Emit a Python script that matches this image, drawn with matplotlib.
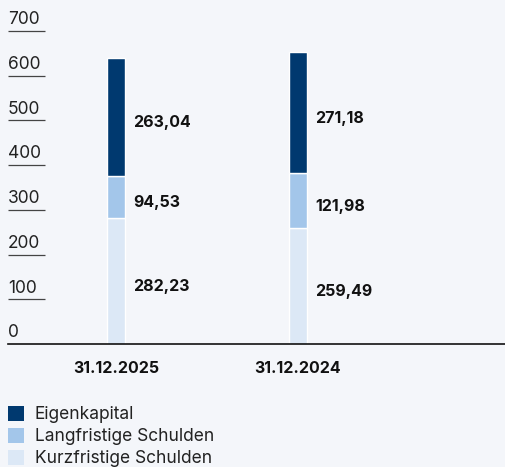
import matplotlib
matplotlib.use("Agg")
import matplotlib.pyplot as plt
from matplotlib.patches import Patch

categories = ["31.12.2025", "31.12.2024"]
kurzfristig = [282.23, 259.49]
langfristig = [94.53, 121.98]
eigenkapital = [263.04, 271.18]
series_names = ["Kurzfristige Schulden", "Langfristige Schulden", "Eigenkapital"]
yticks = [0, 100, 200, 300, 400, 500, 600, 700]

colors = ["#DCE8F6", "#A3C6EA", "#00396F"]
bg = "#F4F6FA"

plt.rcParams['font.family'] = ['Inter', 'DejaVu Sans']

W, H = 506, 467
fig = plt.figure(figsize=(W / 100, H / 100), dpi=100, facecolor=bg)
ax = fig.add_axes([8 / W, 1 - 344 / H, 1 - 8 / W, (344 - 31) / H])
ax.set_facecolor(bg)

x = list(range(len(categories)))
series = [kurzfristig, langfristig, eigenkapital]
bottom = [0.0] * len(categories)
for vals, col, name in zip(series, colors, series_names):
    ax.bar(x, vals, width=0.1, bottom=bottom, color=col, edgecolor="white",
           linewidth=1.0, label=name)
    for xi, v, b in zip(x, vals, bottom):
        ax.annotate(f"{v:.2f}".replace(".", ","), xy=(xi + 0.05, b + v / 2),
                    xytext=(6, -4), textcoords="offset points",
                    ha="left", va="center", fontsize=11.5, fontweight="bold",
                    color="#111111")
    bottom = [b + v for b, v in zip(bottom, vals)]

ax.set_xlim(-(116 - 8) / 182, (506 - 116) / 182)
ax.set_ylim(0, 700)

for s in ["top", "right", "left"]:
    ax.spines[s].set_visible(False)
ax.spines["bottom"].set_color("#111111")
ax.spines["bottom"].set_linewidth(1.2)

ax.set_yticks([])
ytr = ax.get_yaxis_transform()
ax.hlines([t for t in yticks if t > 0], 0, 37 / 498, transform=ytr,
          color="#444444", linewidth=0.9, clip_on=False)
for t in yticks:
    ax.annotate(str(t), xy=(0, t), xycoords=ytr, xytext=(0, 2),
                textcoords="offset points", ha="left", va="bottom",
                fontsize=12.5, color="#222222", annotation_clip=False)

ax.set_xticks(x)
ax.set_xticklabels(categories, fontsize=11.5, fontweight="bold", color="#111111")
ax.tick_params(axis="x", length=0, pad=12)

handles = [Patch(facecolor=c, edgecolor="none") for c in colors[::-1]]
fig.legend(handles, series_names[::-1], loc="upper left",
           bbox_to_anchor=(8 / W, 1 - 406 / H), frameon=False, fontsize=12.5,
           handlelength=0.95, handleheight=0.95, handletextpad=0.6,
           labelspacing=0.25, borderaxespad=0, borderpad=0,
           labelcolor="#222222")

fig.savefig("out.png", dpi=100, facecolor=bg)
